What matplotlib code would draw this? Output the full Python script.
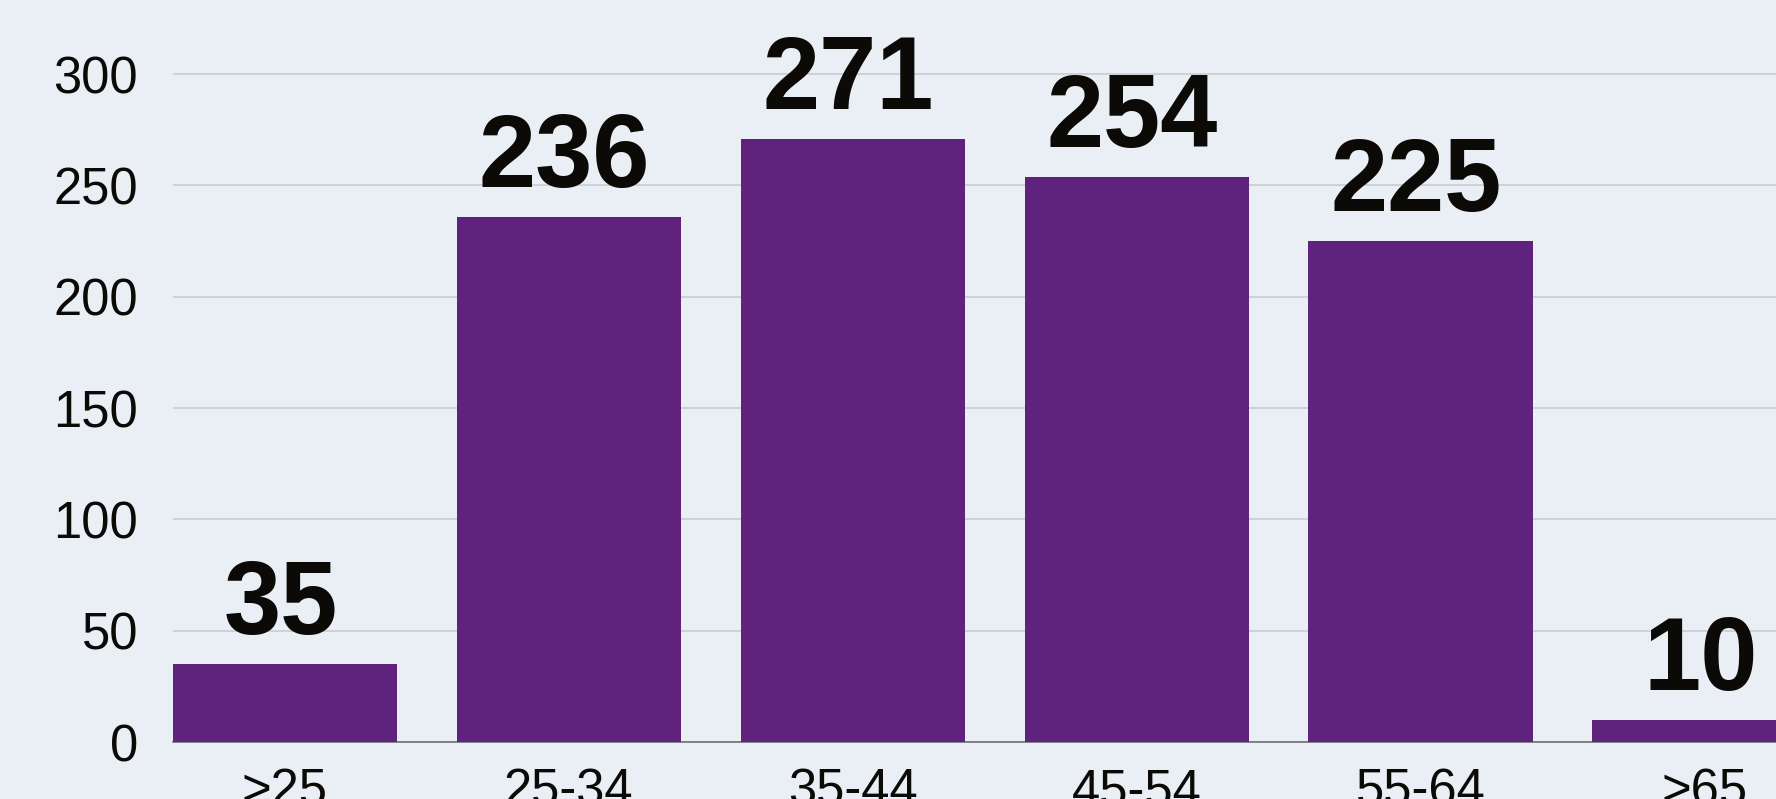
import matplotlib.pyplot as plt

# age groups and counts
age_groups = ['>25', '25-34', '35-44', '45-54', '55-64', '>65']
counts = [35, 236, 271, 254, 225, 10]
y_ticks = [0, 50, 100, 150, 200, 250, 300]

bg = '#E9EFF4'
bar_color = '#5F237E'
text_color = '#0B0A07'

fig = plt.figure(figsize=(17.76, 7.99), dpi=100, facecolor=bg)
# axes runs past the right edge of the figure, like the cropped original
ax = fig.add_axes([172.7 / 1776, 57 / 799, 1644 / 1776, 742 / 799])
ax.set_facecolor(bg)

x = list(range(len(age_groups)))
bars = ax.bar(x, counts, width=0.79, color=bar_color, zorder=3)

for xi, v in zip(x, counts):
    ax.annotate(str(v), (xi, v), xytext=(-3, 21.5), textcoords='offset points',
                ha='center', va='baseline', fontsize=74, fontweight='bold',
                family='Liberation Sans', color=text_color, zorder=4)

ax.set_xlim(-0.395, 5.395)
ax.set_ylim(0, 333.3)
ax.set_yticks(y_ticks)
ax.set_xticks(x)
ax.set_xticklabels(age_groups)

ax.grid(axis='y', color='#C5CAD0', linewidth=1.1, zorder=0)
ax.tick_params(axis='both', length=0, labelsize=36.5, labelcolor=text_color)
ax.tick_params(axis='x', pad=18)
ax.tick_params(axis='y', pad=25)
for lab in ax.get_xticklabels() + ax.get_yticklabels():
    lab.set_family('Liberation Sans')

for side in ['top', 'right', 'left']:
    ax.spines[side].set_visible(False)
ax.spines['bottom'].set_color('#666666')
ax.spines['bottom'].set_linewidth(1.1)
ax.spines['bottom'].set_zorder(2)

fig.savefig('out.png', dpi=100, facecolor=bg)
